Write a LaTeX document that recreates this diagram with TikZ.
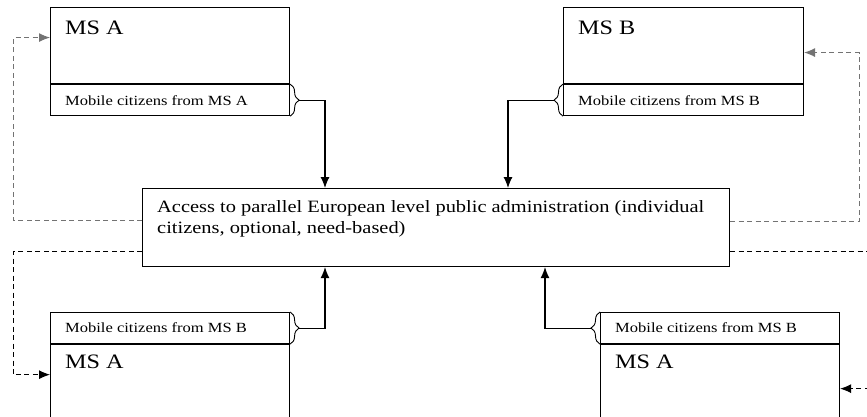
\documentclass[tikz,border=0pt]{standalone}
\usepackage{fontspec}
\setmainfont{Liberation Serif}[FakeStretch=1.18]
\usetikzlibrary{arrows.meta,decorations.pathreplacing}
\begin{document}
\begin{tikzpicture}
      [x=1pt,y=-1pt,line join=miter,
       msbox/.style={draw,line width=1.1pt,anchor=north west,inner sep=0pt,minimum width=239pt,minimum height=76pt},
       subbox/.style={draw,line width=1.1pt,anchor=north west,inner sep=0pt,minimum width=239pt,minimum height=31pt},
       bigtxt/.style={anchor=base west,inner sep=0pt,font=\fontsize{20.5}{24}\selectfont},
       smalltxt/.style={anchor=west,inner sep=0pt,font=\fontsize{14}{16}\selectfont},
       curly/.style={decorate,decoration={brace,amplitude=9pt},line width=0.9pt},
       feed/.style={line width=1.1pt,-{Latex[length=11pt,width=9pt]}},
       fback/.style={line width=1pt,dash pattern=on 5pt off 3.5pt,-{Latex[length=11pt,width=9pt]}}]

%frame of the picture
 \useasboundingbox (0,0) rectangle (867,416);
 \clip (0,0) rectangle (867,416);

%the four member states
 \node[msbox] (msA) at (50,7) {};
 \node[subbox] (mobA) at (msA.south west) {};
 \node[bigtxt] (labA) at ([shift={(15pt,-27pt)}]msA.north west) {MS A};
 \node[smalltxt] (txtA) at ([xshift=15pt]mobA.west) {Mobile citizens from MS A};

 \node[msbox,minimum width=240pt] (msB) at (563,7) {};
 \node[subbox,minimum width=240pt] (mobB) at (msB.south west) {};
 \node[bigtxt] (labB) at ([shift={(15pt,-27pt)}]msB.north west) {MS B};
 \node[smalltxt] (txtB) at ([xshift=15pt]mobB.west) {Mobile citizens from MS B};

 \node[subbox] (mobC) at (50,312) {};
 \node[msbox,minimum height=90pt] (msC) at (mobC.south west) {};
 \node[bigtxt] (labC) at ([shift={(15pt,-24pt)}]msC.north west) {MS A};
 \node[smalltxt] (txtC) at ([xshift=15pt]mobC.west) {Mobile citizens from MS B};

 \node[subbox] (mobD) at (600,312) {};
 \node[msbox,minimum height=90pt] (msD) at (mobD.south west) {};
 \node[bigtxt] (labD) at ([shift={(15pt,-24pt)}]msD.north west) {MS A};
 \node[smalltxt] (txtD) at ([xshift=15pt]mobD.west) {Mobile citizens from MS B};

%the european level
 \node[draw,line width=1.1pt,anchor=north west,inner sep=0pt,minimum width=587pt,minimum height=78pt] (access) at (142,188) {};
 \node[anchor=base west,inner sep=0pt,align=left,font=\fontsize{17.3}{21.5}\selectfont] (acctxt)
   at ([shift={(15pt,-45.5pt)}]access.north west) {Access to parallel European level public administration (individual\\citizens, optional, need-based)};

%braces and feeds
 \draw[curly] (mobA.north east) -- (mobA.south east);
 \draw[curly] (mobB.south west) -- (mobB.north west);
 \draw[curly] (mobC.north east) -- (mobC.south east);
 \draw[curly] (mobD.south west) -- (mobD.north west);

 \coordinate (colA) at (325,0);
 \coordinate (colB) at (508,0);
 \coordinate (colD) at (545,0);
 \draw[feed] ([xshift=9pt]mobA.east) -| (access.north -| colA);
 \draw[feed] ([xshift=-9pt]mobB.west) -| (access.north -| colB);
 \draw[feed] ([xshift=9pt]mobC.east) -| (access.south -| colA);
 \draw[feed] ([xshift=-9pt]mobD.west) -| (access.south -| colD);

%dashed loops back to the states
 \draw[fback,color=black!55] ([yshift=7pt]access.west) -- ++(-129pt,0) |- ([yshift=8pt]msA.west);
 \draw[fback,color=black!55] ([yshift=6pt]access.east) -- ++(129pt,0) |- ([yshift=-7pt]msB.east);
 \draw[fback] ([yshift=-24pt]access.west) -- ++(-129pt,0) |- ([yshift=15pt]msC.west);
 \draw[fback] ([yshift=-24pt]access.east) -- ++(150pt,0) |- ([yshift=1pt]msD.east);

\end{tikzpicture}
\end{document}
